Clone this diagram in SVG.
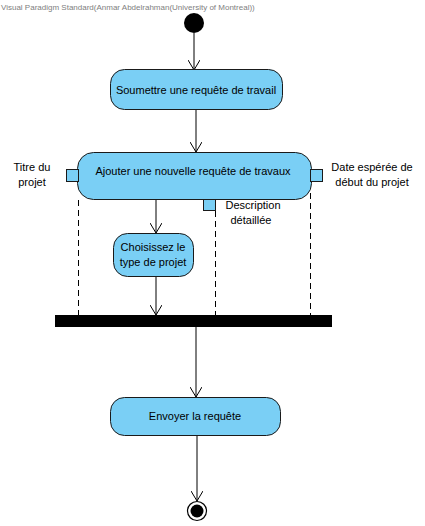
<svg xmlns="http://www.w3.org/2000/svg" width="425" height="526" viewBox="0 0 425 526">
  <defs>
    <marker id="open" viewBox="0 0 10 12" refX="10" refY="6" markerWidth="10" markerHeight="12" markerUnits="userSpaceOnUse" orient="auto">
      <path d="M0,0 L10,6 L0,12" fill="none" stroke="#000" stroke-width="1"/>
    </marker>
  </defs>
  <style>
    .act { fill: #7ACFF5; stroke: #1a1a1a; stroke-width: 1; }
    .pin { fill: #7ACFF5; stroke: #1a1a1a; stroke-width: 1; }
    .t { font-family: "Liberation Sans", Arial, sans-serif; font-size: 11px; fill: #000; text-anchor: middle; }
    .flow { stroke: #000; stroke-width: 1; fill: none; marker-end: url(#open); }
    .line { stroke: #000; stroke-width: 1; fill: none; }
    .dash { stroke: #000; stroke-width: 1; fill: none; stroke-dasharray: 6 4; }
    .hdr { font-family: "Liberation Sans", Arial, sans-serif; font-size: 8px; fill: #808080; }
  </style>
  <rect width="425" height="526" fill="#fff"/>
  <text class="hdr" x="1" y="10">Visual Paradigm Standard(Anmar Abdelrahman(University of Montreal))</text>

  <g id="connectors">
    <line class="flow" x1="194" y1="33" x2="194" y2="70"/>
    <line class="flow" x1="196" y1="110" x2="196" y2="152"/>
    <line class="flow" x1="156" y1="200" x2="156" y2="233"/>
    <line class="flow" x1="156" y1="276" x2="156" y2="315"/>
    <line class="flow" x1="196" y1="327" x2="196" y2="397"/>
    <line class="flow" x1="197" y1="436" x2="197" y2="501"/>
    <line class="dash" x1="78.5" y1="200" x2="78.5" y2="315"/>
    <line class="dash" x1="215.5" y1="211" x2="215.5" y2="315"/>
    <line class="dash" x1="310.5" y1="193" x2="310.5" y2="315"/>
  </g>

  <g id="initial">
    <circle cx="194" cy="23" r="10" fill="#000"/>
  </g>

  <g id="soumettre">
    <rect class="act" x="110.5" y="69.5" width="172" height="40" rx="14"/>
    <text class="t" x="196" y="94">Soumettre une requête de travail</text>
  </g>

  <g id="ajouter">
    <rect class="act" x="77.5" y="152.5" width="234" height="47" rx="16"/>
    <text class="t" x="193" y="175">Ajouter une nouvelle requête de travaux</text>
  </g>

  <g id="pin-titre">
    <rect class="pin" x="66.5" y="169.5" width="12" height="12"/>
    <text class="t" x="32" y="171">Titre du</text>
    <text class="t" x="32" y="186">projet</text>
  </g>

  <g id="pin-date">
    <rect class="pin" x="310.5" y="169.5" width="12" height="12"/>
    <text class="t" x="372" y="171">Date espérée de</text>
    <text class="t" x="372" y="186">début du projet</text>
  </g>

  <g id="pin-description">
    <rect class="pin" x="203.5" y="199.5" width="12" height="11"/>
    <text class="t" x="253" y="209">Description</text>
    <text class="t" x="251" y="224">détaillée</text>
  </g>

  <g id="choisissez">
    <rect class="act" x="113.5" y="233.5" width="80" height="43" rx="14"/>
    <text class="t" x="153" y="251">Choisissez le</text>
    <text class="t" x="153" y="266">type de projet</text>
  </g>

  <g id="fork">
    <rect x="55" y="315" width="277" height="12" fill="#000"/>
  </g>

  <g id="envoyer">
    <rect class="act" x="110.5" y="397.5" width="170" height="38" rx="14"/>
    <text class="t" x="195" y="420">Envoyer la requête</text>
  </g>

  <g id="final">
    <circle cx="197" cy="511" r="9.5" fill="#fff" stroke="#000" stroke-width="1.2"/>
    <circle cx="197" cy="511" r="6.5" fill="#000"/>
  </g>
</svg>
